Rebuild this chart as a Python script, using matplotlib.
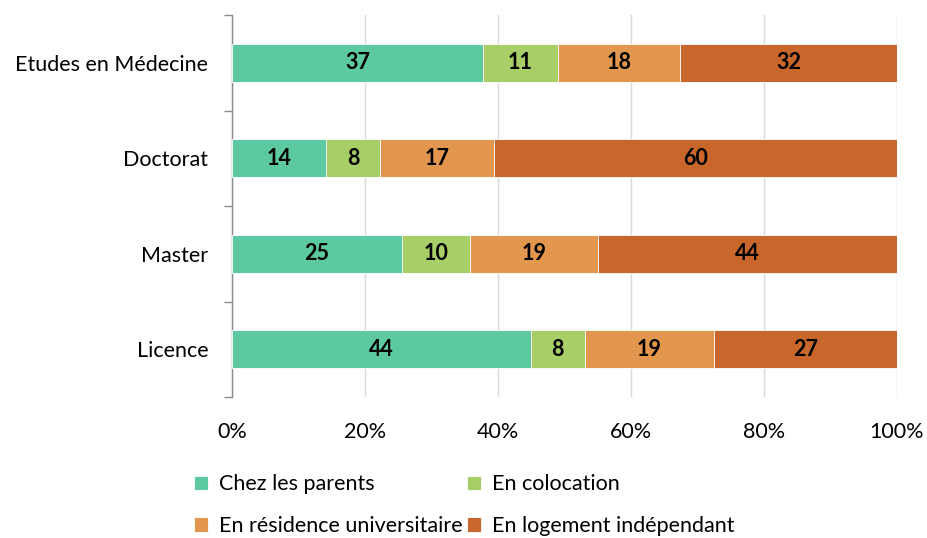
import matplotlib.pyplot as plt
import numpy as np

plt.rcParams['font.family'] = ['Lato', 'DejaVu Sans']

categories = ["Licence", "Master", "Doctorat", "Etudes en Médecine"]
series = ["Chez les parents", "En colocation", "En résidence universitaire", "En logement indépendant"]
parents = [44, 25, 14, 37]
colocation = [8, 10, 8, 11]
residence = [19, 19, 17, 18]
independant = [27, 44, 60, 32]
colors = ["#5DC9A0", "#A8CF67", "#E3964E", "#C8662C"]

values = np.array([parents, colocation, residence, independant], dtype=float)
shares = values / values.sum(axis=0) * 100

fig = plt.figure(figsize=(9.27, 5.38), dpi=100)
ax = fig.add_axes([0.2503, 0.262, 0.7173, 0.71])

y = np.arange(len(categories))
left = np.zeros(len(categories))
for i, name in enumerate(series):
    bars = ax.barh(y, shares[i], left=left, height=0.4, color=colors[i],
                   edgecolor="white", linewidth=0.6, label=name, zorder=3)
    for j, b in enumerate(bars):
        ax.text(b.get_x() + b.get_width() / 2, y[j], "%d" % values[i][j],
                ha="center", va="center", fontsize=15.5, fontweight="bold",
                color="black", zorder=4)
    left += shares[i]

ax.set_xlim(0, 100)
ax.set_ylim(-0.5, 3.5)
ax.set_xticks(np.arange(0, 101, 20))
ax.set_xticklabels(["%d%%" % v for v in range(0, 101, 20)], fontsize=15.5)
ax.set_yticks(y)
ax.set_yticklabels(categories, fontsize=15.5)
ax.set_yticks(np.arange(-0.5, 3.6, 1), minor=True)
ax.tick_params(axis="y", which="major", length=0, pad=17)
ax.tick_params(axis="y", which="minor", length=6, color="#8C8C8C", width=1)
ax.tick_params(axis="x", length=0, pad=18)
ax.grid(axis="x", color="#D9D9D9", linewidth=1, zorder=0)
for s in ["top", "right", "bottom"]:
    ax.spines[s].set_visible(False)
ax.spines["left"].set_color("#8C8C8C")
ax.spines["left"].set_linewidth(1)

handles, labels = ax.get_legend_handles_labels()
order = [0, 2, 1, 3]
ax.legend([handles[k] for k in order], [labels[k] for k in order],
          loc="upper left", bbox_to_anchor=(-0.07, -0.18), ncol=2, frameon=False,
          fontsize=15.5, handlelength=0.65, handleheight=0.65, handletextpad=0.5,
          columnspacing=0.2, labelspacing=1.0, borderaxespad=0)

fig.savefig("out.png", dpi=100)
